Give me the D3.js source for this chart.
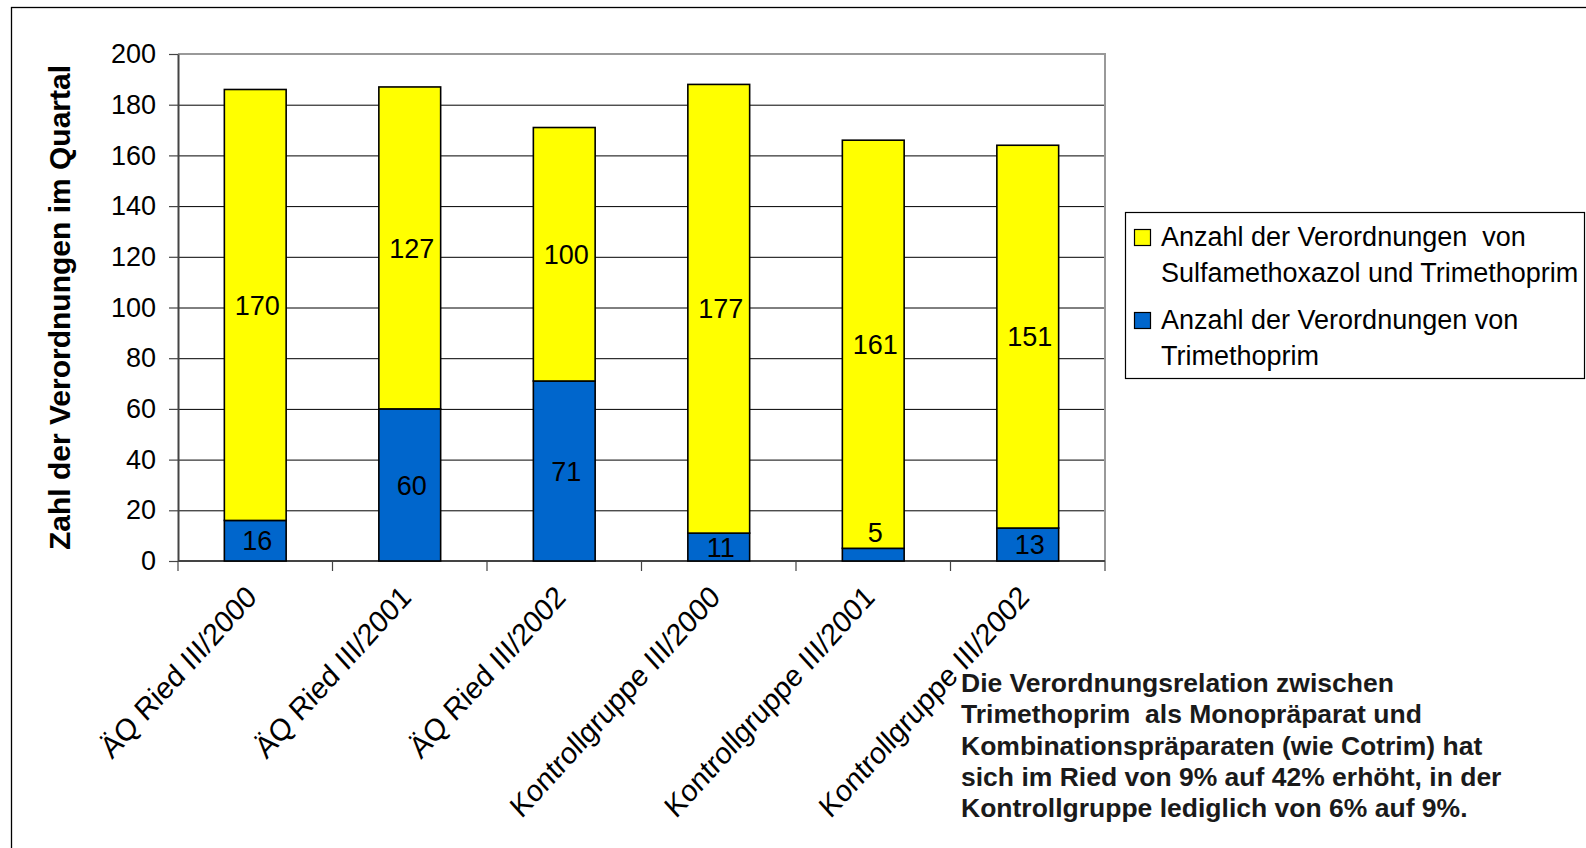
<!DOCTYPE html>
<html>
<head>
<meta charset="utf-8">
<script src="https://cdn.jsdelivr.net/npm/d3@7"></script>
<style>
  html, body { margin: 0; padding: 0; background: #fff; }
  svg { display: block; }
  text { font-family: "Liberation Sans", Arial, sans-serif; white-space: pre; }
</style>
</head>
<body>
<script>
// ---- data ----
const categories = ["ÄQ Ried III/2000", "ÄQ Ried III/2001", "ÄQ Ried III/2002",
                    "Kontrollgruppe III/2000", "Kontrollgruppe III/2001", "Kontrollgruppe III/2002"];
const trimethoprim = [16, 60, 71, 11, 5, 13];
const sulfaTrim = [170, 127, 100, 177, 161, 151];
const yTicks = [0, 20, 40, 60, 80, 100, 120, 140, 160, 180, 200];
const seriesNames = ["Anzahl der Verordnungen  von|Sulfamethoxazol und Trimethoprim",
                     "Anzahl der Verordnungen von|Trimethoprim"];
const yTitle = "Zahl der Verordnungen im Quartal";
const noteLines = ["Die Verordnungsrelation zwischen",
                   "Trimethoprim  als Monopräparat und",
                   "Kombinationspräparaten (wie Cotrim) hat",
                   "sich im Ried von 9% auf 42% erhöht, in der",
                   "Kontrollgruppe lediglich von 6% auf 9%."];

const W = 1586, H = 848;
const plot = { left: 178, right: 1105, top: 54, bottom: 561 };
const colors = { blue: "#0066CC", yellow: "#FFFF00" };

const svg = d3.select("body").append("svg").attr("width", W).attr("height", H);

// outer frame
svg.append("rect").attr("x", 11.5).attr("y", 7.5).attr("width", W).attr("height", H)
  .attr("fill", "none").attr("stroke", "#000").attr("stroke-width", 1.3);

const x = d3.scaleBand().domain(categories).range([plot.left, plot.right])
  .paddingInner(0.6).paddingOuter(0.3);
const y = d3.scaleLinear().domain([0, 200]).range([plot.bottom, plot.top]);

// gridlines
svg.append("g").selectAll("line").data(yTicks.filter(t => t > 0 && t < 200)).join("line")
  .attr("x1", plot.left).attr("x2", plot.right)
  .attr("y1", d => y(d) + 0.5).attr("y2", d => y(d) + 0.5)
  .attr("stroke", "#000").attr("stroke-width", 1);

// plot border top/right (gray)
svg.append("path")
  .attr("d", `M${plot.left},${y(200)} H${plot.right} V${plot.bottom}`)
  .attr("fill", "none").attr("stroke", "#999").attr("stroke-width", 2);

// y axis
const yAxis = d3.axisLeft(y).tickValues(yTicks).tickSize(9).tickPadding(13).tickSizeOuter(0);
const gy = svg.append("g").attr("transform", `translate(${plot.left},0)`).call(yAxis);
gy.select(".domain").attr("stroke", "#444").attr("stroke-width", 2);
gy.selectAll(".tick line").attr("stroke", "#444").attr("stroke-width", 1.2);
gy.selectAll(".tick text").attr("font-size", 27).attr("fill", "#000")
  .attr("font-family", "Liberation Sans, Arial, sans-serif");

// x axis (ticks between categories)
const step = x.step();
const boundaries = d3.range(categories.length + 1).map(i => plot.left + i * step);
svg.append("line").attr("x1", plot.left).attr("x2", plot.right)
  .attr("y1", plot.bottom).attr("y2", plot.bottom)
  .attr("stroke", "#444").attr("stroke-width", 2);
svg.append("g").selectAll("line").data(boundaries).join("line")
  .attr("x1", d => d).attr("x2", d => d)
  .attr("y1", plot.bottom).attr("y2", plot.bottom + 10)
  .attr("stroke", "#444").attr("stroke-width", 1.2);

// x labels
svg.append("g").selectAll("text").data(categories).join("text")
  .attr("transform", d => `translate(${x(d) + x.bandwidth() / 2 + 3},${plot.bottom + 38}) scale(1,1.1) rotate(-45)`)
  .attr("text-anchor", "end").attr("font-size", 28).attr("fill", "#000")
  .text(d => d);

// bars
const stacks = categories.map((c, i) => ({ c, t: trimethoprim[i], s: sulfaTrim[i] }));
const gb = svg.append("g");
gb.selectAll("rect.blue").data(stacks).join("rect").attr("class", "blue")
  .attr("x", d => x(d.c)).attr("width", x.bandwidth())
  .attr("y", d => y(d.t)).attr("height", d => y(0) - y(d.t))
  .attr("fill", colors.blue).attr("stroke", "#000").attr("stroke-width", 1.6);
gb.selectAll("rect.yellow").data(stacks).join("rect").attr("class", "yellow")
  .attr("x", d => x(d.c)).attr("width", x.bandwidth())
  .attr("y", d => y(d.t + d.s)).attr("height", d => y(d.t) - y(d.t + d.s))
  .attr("fill", colors.yellow).attr("stroke", "#000").attr("stroke-width", 1.6);

// data labels
function labelY(lo, hi) {
  const h = y(lo) - y(hi);
  return h < 22 ? y(hi) - 16 : (y(lo) + y(hi)) / 2;
}
const gl = svg.append("g").attr("font-size", 27).attr("fill", "#000").attr("text-anchor", "middle");
gl.selectAll("text.b").data(stacks).join("text").attr("class", "b")
  .attr("x", d => x(d.c) + x.bandwidth() / 2 + 2)
  .attr("y", d => labelY(0, d.t)).attr("dy", "0.36em").text(d => d.t);
gl.selectAll("text.y").data(stacks).join("text").attr("class", "y")
  .attr("x", d => x(d.c) + x.bandwidth() / 2 + 2)
  .attr("y", d => labelY(d.t, d.t + d.s)).attr("dy", "0.36em").text(d => d.s);

// y title
svg.append("text").attr("transform", `translate(70,${(plot.top + plot.bottom) / 2}) rotate(-90)`)
  .attr("text-anchor", "middle").attr("font-size", 30).attr("font-weight", "bold")
  .attr("fill", "#000").text(yTitle);

// legend
const lg = svg.append("g");
lg.append("rect").attr("x", 1125.5).attr("y", 212.5).attr("width", 459).attr("height", 166)
  .attr("fill", "#fff").attr("stroke", "#000").attr("stroke-width", 1.2);
const legendItems = [{ name: seriesNames[0], color: colors.yellow, y0: 229 },
                     { name: seriesNames[1], color: colors.blue, y0: 312 }];
legendItems.forEach(it => {
  lg.append("rect").attr("x", 1134.5).attr("y", it.y0 + 0.5).attr("width", 16).attr("height", 16)
    .attr("fill", it.color).attr("stroke", "#000").attr("stroke-width", 1.2);
  const t = lg.append("text").attr("x", 1161).attr("y", it.y0 + 17).attr("font-size", 27).attr("fill", "#000");
  it.name.split("|").forEach((ln, i) => {
    t.append("tspan").attr("x", 1161).attr("dy", i === 0 ? 0 : 36).text(ln);
  });
});

// annotation
const note = svg.append("text").attr("x", 961).attr("y", 692).attr("font-size", 26.5)
  .attr("font-weight", "bold").attr("fill", "#1a1a1a");
noteLines.forEach((ln, i) => {
  note.append("tspan").attr("x", 961).attr("dy", i === 0 ? 0 : 31.3).text(ln);
});
</script>
</body>
</html>
